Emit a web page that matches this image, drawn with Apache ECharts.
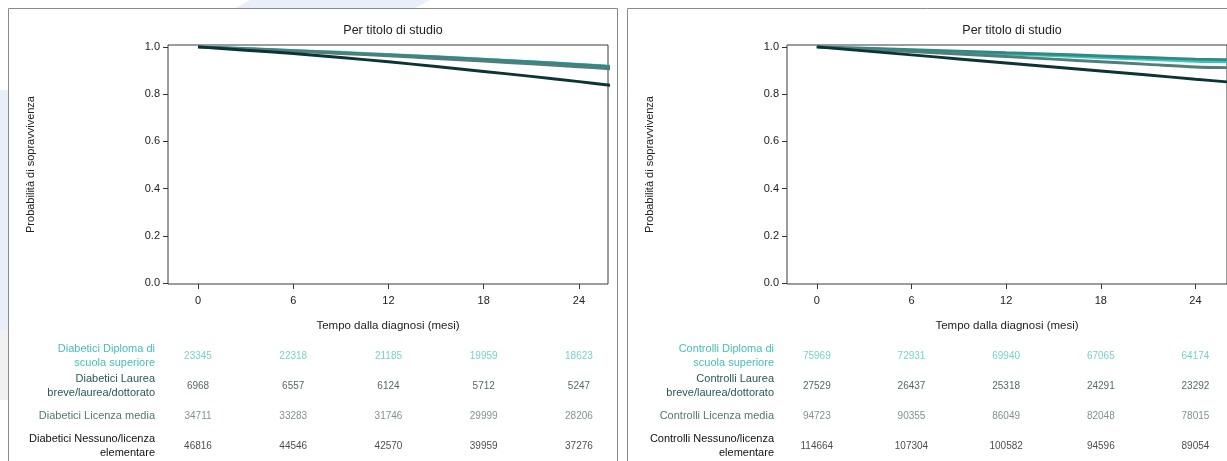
<!DOCTYPE html>
<html>
<head>
<meta charset="utf-8">
<script src="https://cdn.jsdelivr.net/npm/echarts@6/dist/echarts.min.js"></script>
<style>
  html, body { margin: 0; padding: 0; background: #fff; }
  #chart { width: 1227px; height: 461px; }
</style>
</head>
<body>
<div id="chart"></div>
<script>
// time points (months)
const months = [0, 3, 6, 9, 12, 15, 18, 21, 24, 26]
const tickMonths = [0, 6, 12, 18, 24]
const yTicks = [0, 0.2, 0.4, 0.6, 0.8, 1.0]

const groups = ['Diploma di\nscuola superiore', 'Laurea\nbreve/laurea/dottorato', 'Licenza media', 'Nessuno/licenza\nelementare']

// Diabetici survival
const diabDiploma = [1, 0.993, 0.985, 0.977, 0.968, 0.958, 0.948, 0.937, 0.926, 0.918]
const diabLaurea = [1, 0.992, 0.984, 0.975, 0.966, 0.957, 0.947, 0.936, 0.925, 0.916]
const diabMedia = [1, 0.991, 0.982, 0.972, 0.962, 0.951, 0.940, 0.928, 0.916, 0.907]
const diabNessuno = [1, 0.986, 0.972, 0.955, 0.937, 0.917, 0.896, 0.875, 0.853, 0.837]

// Controlli survival
const ctrlDiploma = [1, 0.993, 0.986, 0.978, 0.970, 0.963, 0.955, 0.947, 0.939, 0.937]
const ctrlLaurea = [1, 0.994, 0.988, 0.982, 0.975, 0.969, 0.962, 0.955, 0.948, 0.946]
const ctrlMedia = [1, 0.990, 0.980, 0.970, 0.959, 0.948, 0.937, 0.926, 0.915, 0.912]
const ctrlNessuno = [1, 0.983, 0.966, 0.949, 0.932, 0.915, 0.898, 0.881, 0.863, 0.852]

// numbers at risk at 0, 6, 12, 18, 24 months
const riskDiab = [
  [23345, 22318, 21185, 19959, 18623],
  [6968, 6557, 6124, 5712, 5247],
  [34711, 33283, 31746, 29999, 28206],
  [46816, 44546, 42570, 39959, 37276]
]
const riskCtrl = [
  [75969, 72931, 69940, 67065, 64174],
  [27529, 26437, 25318, 24291, 23292],
  [94723, 90355, 86049, 82048, 78015],
  [114664, 107304, 100582, 94596, 89054]
]

const lineColors = ['#3fc2b9', '#2d8a85', '#527d7b', '#0d3434']
const labelColors = ['#45bfb7', '#2a5855', '#557775', '#111111']
const numColors = ['#55c6be', '#27413f', '#627776', '#1a1a1a']
const font = 'Liberation Sans, Arial, sans-serif'

const panels = [
  { prefix: 'Diabetici', curves: [diabDiploma, diabLaurea, diabMedia, diabNessuno], risk: riskDiab, left: 168, width: 440, xMax: 25.83, titleX: 388 },
  { prefix: 'Controlli', curves: [ctrlDiploma, ctrlLaurea, ctrlMedia, ctrlNessuno], risk: riskCtrl, left: 787, width: 443, xMax: 26.0, titleX: 1007 }
]

const grid = []
const xAxis = []
const yAxis = []
const series = []
const title = []

const rich = {}
labelColors.forEach((c, i) => {
  rich['r' + i] = { color: c, fontSize: 11, fontFamily: font, align: 'right', lineHeight: 14 }
})

panels.forEach((p, k) => {
  const g = k * 2
  title.push({
    text: 'Per titolo di studio',
    left: p.titleX,
    top: 19,
    textAlign: 'center',
    textStyle: { fontSize: 12.5, fontWeight: 'normal', color: '#222', fontFamily: font }
  })
  // survival plot
  grid.push({ left: p.left, top: 45, width: p.width, height: 239, show: true, borderColor: '#3a3a3a', borderWidth: 1, backgroundColor: '#fff' })
  // risk table
  grid.push({ left: p.left, top: 341, width: p.width, height: 123 })

  xAxis.push({
    type: 'value', gridIndex: g, min: -1.89, max: p.xMax,
    name: 'Tempo dalla diagnosi (mesi)', nameLocation: 'middle', nameGap: 36,
    nameTextStyle: { fontSize: 11.5, color: '#222', fontFamily: font },
    axisLine: { show: false, onZero: false },
    splitLine: { show: false },
    axisTick: { show: true, length: 5, lineStyle: { color: '#333' }, customValues: tickMonths },
    axisLabel: { color: '#222', fontSize: 11, fontFamily: font, margin: 11, customValues: tickMonths }
  })
  xAxis.push({ type: 'value', gridIndex: g + 1, min: -1.89, max: p.xMax, show: false })

  yAxis.push({
    type: 'value', gridIndex: g, min: -0.004, max: 1.008,
    name: 'Probabilità di sopravvivenza', nameLocation: 'middle', nameGap: 132, nameRotate: 90,
    nameTextStyle: { fontSize: 11, color: '#222', fontFamily: font },
    axisLine: { show: false, onZero: false },
    splitLine: { show: false },
    axisTick: { show: true, length: 5, lineStyle: { color: '#333' }, customValues: yTicks },
    axisLabel: { color: '#222', fontSize: 11, fontFamily: font, margin: 8, customValues: yTicks, formatter: v => v.toFixed(1) }
  })
  yAxis.push({
    type: 'category', gridIndex: g + 1, inverse: true,
    data: groups.map(n => p.prefix + ' ' + n),
    axisLine: { show: false }, axisTick: { show: false }, splitLine: { show: false },
    axisLabel: { margin: 13, formatter: (v, i) => '{r' + i + '|' + v + '}', rich: rich }
  })

  p.curves.forEach((vals, i) => {
    series.push({
      type: 'line', xAxisIndex: g, yAxisIndex: g,
      name: p.prefix + ' ' + groups[i],
      data: months.map((m, j) => [m, vals[j]]),
      showSymbol: false, smooth: 0.3,
      lineStyle: { color: lineColors[i], width: 2.9 },
      z: i === 3 ? 4 : 3
    })
  })

  p.risk.forEach((row, i) => {
    series.push({
      type: 'scatter', xAxisIndex: g + 1, yAxisIndex: g + 1,
      symbolSize: 0,
      data: row.map((n, j) => [tickMonths[j], i, n]),
      label: {
        show: true, position: 'inside', formatter: d => String(d.value[2]),
        color: numColors[i], fontSize: 10, fontFamily: font
      }
    })
  })
})

const option = {
  backgroundColor: '#fff',
  animation: false,
  title: title,
  grid: grid,
  xAxis: xAxis,
  yAxis: yAxis,
  series: series,
  graphic: [
    // faint page background showing around the panels
    { type: 'polygon', z: -10, shape: { points: [[0, 90], [8, 90], [8, 330], [0, 330]] }, style: { fill: '#e9eff8' }, silent: true },
    { type: 'polygon', z: -10, shape: { points: [[0, 330], [8, 330], [8, 400], [0, 400]] }, style: { fill: '#f0f1f3' }, silent: true },
    { type: 'polygon', z: -10, shape: { points: [[250, 0], [430, 0], [415, 8], [235, 8]] }, style: { fill: '#e9eff8' }, silent: true },
    // panel frames
    { type: 'rect', z: -5, shape: { x: 8.5, y: 8.5, width: 609, height: 470 }, style: { fill: '#fff', stroke: '#8a8a8a', lineWidth: 1 }, silent: true },
    { type: 'rect', z: -5, shape: { x: 627.5, y: 8.5, width: 700, height: 470 }, style: { fill: '#fff', stroke: '#8a8a8a', lineWidth: 1 }, silent: true }
  ]
}

const chart = echarts.init(document.getElementById('chart'))
chart.setOption(option)
window.addEventListener('resize', () => chart.resize())
</script>
</body>
</html>
